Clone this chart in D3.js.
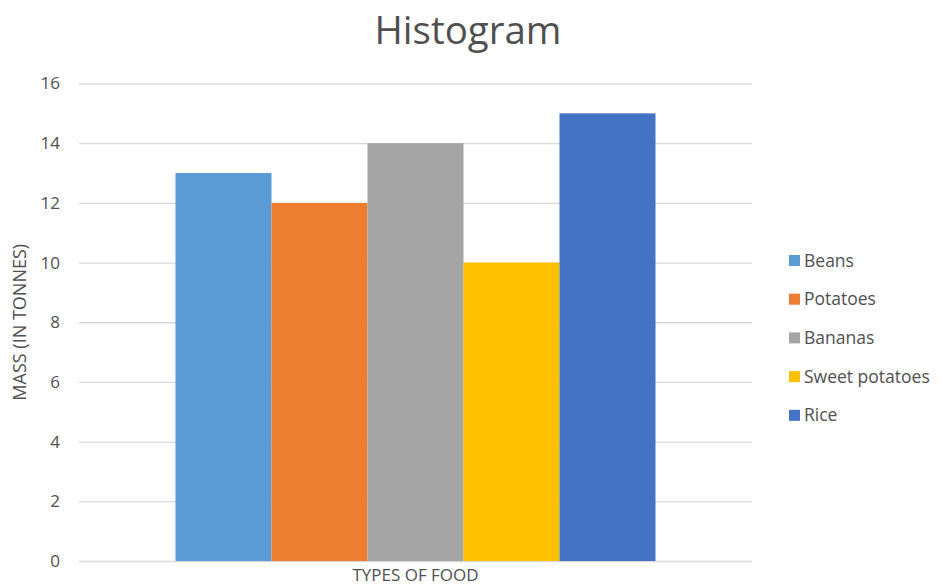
<!DOCTYPE html>
<html><head><meta charset="utf-8">
<script src="https://cdn.jsdelivr.net/npm/d3@7"></script>
<style>body{margin:0;background:#fff}svg{display:block}</style>
</head><body>
<svg id="chart" width="943" height="588"></svg>
<script>
const categories = ["TYPES OF FOOD"];
const seriesNames = ["Beans", "Potatoes", "Bananas", "Sweet potatoes", "Rice"];
const seriesValues = [13, 12, 14, 10, 15];
const seriesColors = ["#5B9BD5", "#ED7D31", "#A5A5A5", "#FFC000", "#4472C4"];
const yTicks = [0, 2, 4, 6, 8, 10, 12, 14, 16];

(function () {
const svg = d3.select("#chart");
const font = "'Open Sans', 'Noto Sans', sans-serif";
const textColor = "#505050";
const mLeft = 79, mRight = 752, mTop = 83.5, mBottom = 561;

const y = d3.scaleLinear().domain([0, 16]).range([mBottom, mTop]);
const x0 = d3.scaleBand().domain(categories).range([mLeft, mRight]).paddingInner(0).paddingOuter(0.201);
const x1 = d3.scaleBand().domain(seriesNames).range([0, x0.bandwidth()]).padding(0);
const color = d3.scaleOrdinal().domain(seriesNames).range(seriesColors);

// gridlines
const yAxis = d3.axisLeft(y).tickValues(yTicks).tickSize(-(mRight - mLeft)).tickPadding(19);
const gy = svg.append("g").attr("transform", `translate(${mLeft},0)`).call(yAxis);
gy.select(".domain").remove();
gy.selectAll(".tick line").attr("stroke", "#d9d9d9").attr("stroke-width", 1.3);
gy.selectAll(".tick text").attr("fill", textColor).style("font-family", font).style("font-size", "17px");

// bars
const data = seriesNames.map((s, i) => ({ cat: categories[0], name: s, value: seriesValues[i] }));
svg.append("g").selectAll("rect").data(data).join("rect")
  .attr("x", d => x0(d.cat) + x1(d.name))
  .attr("width", x1.bandwidth())
  .attr("y", d => y(d.value))
  .attr("height", d => y(0) - y(d.value))
  .attr("fill", d => color(d.name));

// x axis label
const xAxis = d3.axisBottom(x0).tickSize(0).tickPadding(8);
const gx = svg.append("g").attr("transform", `translate(0,${mBottom})`).call(xAxis);
gx.select(".domain").remove();
gx.selectAll(".tick text").attr("fill", textColor).style("font-family", font).style("font-size", "17px");

// title
svg.append("text").attr("x", 468).attr("y", 44).attr("text-anchor", "middle")
  .attr("fill", textColor).style("font-family", font).style("font-size", "38.5px").text("Histogram");

// y axis title
svg.append("text").attr("transform", `translate(26,${(mTop + mBottom) / 2}) rotate(-90)`)
  .attr("text-anchor", "middle").attr("fill", textColor)
  .style("font-family", font).style("font-size", "18px").text("MASS (IN TONNES)");

// legend
const legend = svg.append("g").attr("transform", "translate(789,255)");
const items = legend.selectAll("g").data(seriesNames).join("g")
  .attr("transform", (d, i) => `translate(0,${i * 38.7})`);
items.append("rect").attr("width", 11).attr("height", 11).attr("fill", d => color(d));
items.append("text").attr("x", 15).attr("y", 5.5).attr("dy", "0.35em")
  .attr("fill", textColor).style("font-family", font).style("font-size", "17.5px").text(d => d);
})();
</script>
</body></html>
